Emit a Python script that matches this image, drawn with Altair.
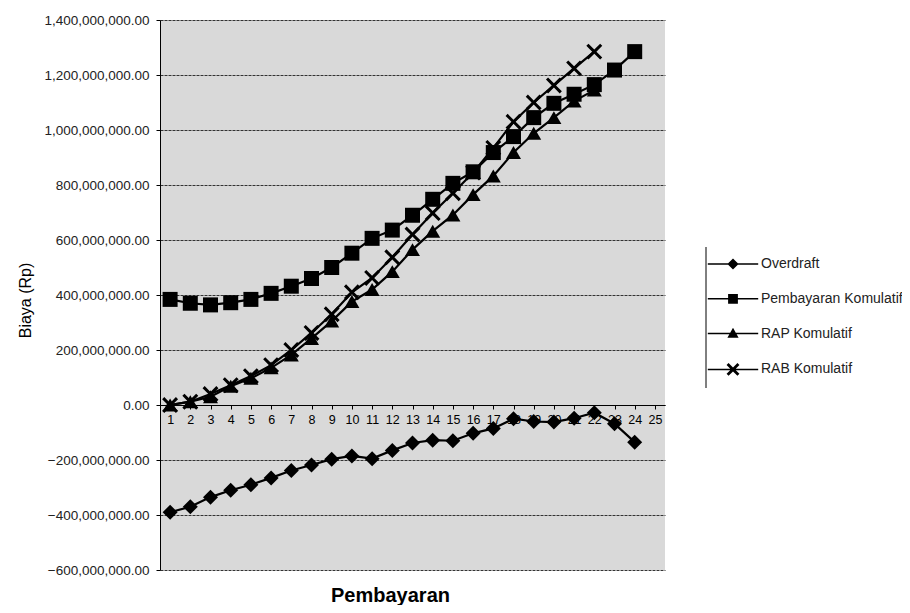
import math
import altair as alt
import pandas as pd

# ---- data (values in millions of Rupiah) ----
series_names = ["Overdraft", "Pembayaran Komulatif", "RAP Komulatif", "RAB Komulatif"]
periods = list(range(1, 26))

overdraft = [-390, -370, -335, -310, -290, -265, -238, -218, -197, -185, -195, -165,
             -138, -128, -130, -103, -85, -50, -60, -62, -48, -28, -68, -135]
pembayaran = [384, 370, 364, 372, 384, 406, 432, 460, 500, 552, 606, 636,
              690, 748, 806, 848, 918, 976, 1045, 1097, 1130, 1165, 1218, 1285]
rap = [0, 12, 30, 68, 97, 135, 182, 242, 305, 376, 420, 485,
       565, 632, 691, 765, 833, 918, 988, 1045, 1105, 1145]
rab = [0, 12, 40, 72, 105, 145, 200, 262, 330, 410, 462, 537,
       620, 698, 770, 845, 935, 1030, 1100, 1162, 1224, 1285]

y_ticks = list(range(-600, 1401, 200))

rows = []
for name, vals in zip(series_names, [overdraft, pembayaran, rap, rab]):
    for i, v in enumerate(vals):
        rows.append({"series": name, "periode": periods[i], "biaya": v * 1e6})
df = pd.DataFrame(rows)

# ---- marker shapes ----
def cross_path(L, h, s=1.0):
    pts = [(h, -L), (h, -h), (L, -h), (L, h), (h, h), (h, L), (-h, L), (-h, h),
           (-L, h), (-L, -h), (-h, -h), (-h, -L)]
    c = math.cos(math.pi / 4)
    rp = [((x * c - y * c) * s, (x * c + y * c) * s) for x, y in pts]
    return "M" + "L".join(f"{x:.3f},{y:.3f}" for x, y in rp) + "Z"

plot_shapes = ["diamond", "square", "triangle-up", cross_path(1.3, 0.2)]

LW, LH = 3.6, 0.11
seg = f"M{-LW},{-LH}L{LW},{-LH}L{LW},{LH}L{-LW},{LH}Z"
legend_shapes = [
    seg + "M0,-0.8L0.8,0L0,0.8L-0.8,0Z",
    seg + "M-0.7,-0.7L0.7,-0.7L0.7,0.7L-0.7,0.7Z",
    seg + "M0,-0.85L0.8,0.6L-0.8,0.6Z",
    seg + cross_path(1.1, 0.2),
]

FONT = "Liberation Sans"

x_enc = alt.X(
    "periode:O",
    scale=alt.Scale(domain=periods),
    axis=alt.Axis(
        offset=-165, labelAngle=0, title="Pembayaran", titleX=230, titleY=190,
        titleBaseline="middle", titleFontSize=20, titleFontWeight="bold",
        titleFont=FONT, titleColor="black", labelFont=FONT, labelFontSize=12.5,
        labelColor="black", domainColor="black", tickColor="black", tickSize=4,
        labelPadding=4, grid=False,
    ),
)
y_enc = alt.Y(
    "biaya:Q",
    scale=alt.Scale(domain=[-600e6, 1400e6], nice=False, zero=False),
    axis=alt.Axis(
        values=[v * 1e6 for v in y_ticks], format=",.2f", title="Biaya (Rp)",
        titleX=-135, titleY=280, titleBaseline="middle", titleAlign="center",
        titleFontSize=16, titleFontWeight="normal", titleFont=FONT, titleColor="black",
        labelFont=FONT, labelFontSize=13.5, labelColor="#222", domainColor="black",
        tickColor="black", tickSize=4, labelPadding=7,
        grid=True, gridColor="#333", gridDash=[3, 1], gridWidth=1,
    ),
)

base = alt.Chart(df)

lines = base.mark_line(color="black", strokeWidth=2.2).encode(
    x=x_enc, y=y_enc, detail="series:N", order="periode:Q"
)

points = base.mark_point(filled=True, color="black", opacity=1, size=225).encode(
    x=x_enc, y=y_enc,
    shape=alt.Shape("series:N", scale=alt.Scale(domain=series_names, range=plot_shapes), legend=None),
)

legend_layer = base.transform_filter(alt.datum.biaya > 1e15).transform_calculate(
    legend_series="datum.series"
).mark_point(filled=True, color="black", opacity=1).encode(
    x=x_enc, y=y_enc,
    shape=alt.Shape(
        "legend_series:N",
        scale=alt.Scale(domain=series_names, range=legend_shapes),
        legend=alt.Legend(
            orient="none", legendX=565, legendY=236, title=None, padding=0,
            symbolSize=196, symbolFillColor="black", symbolOpacity=1, labelOffset=20,
            rowPadding=17.8, labelFont=FONT, labelFontSize=14, labelColor="#222",
            labelLimit=300,
        ),
    ),
)

legend_border = alt.Chart(pd.DataFrame({"k": [0]})).mark_rule(color="black", strokeWidth=1).encode(
    x=alt.value(546), y=alt.value(227), y2=alt.value(368)
)

chart = alt.layer(lines, points, legend_layer, legend_border).resolve_scale(
    shape="independent"
).properties(
    width=505, height=550,
    background="white",
    autosize=alt.AutoSizeParams(type="none"),
    padding={"left": 152, "top": 12, "right": 237, "bottom": 35},
).configure_view(
    fill="#d9d9d9", stroke=None
)

chart.save("out.html", embed_options={"renderer": "svg", "actions": False})
